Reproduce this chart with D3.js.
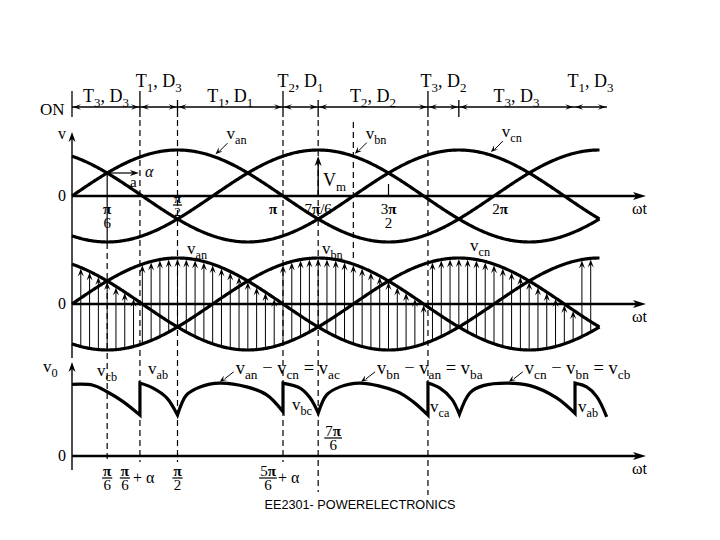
<!DOCTYPE html>
<html>
<head>
<meta charset="utf-8">
<script src="https://cdn.jsdelivr.net/npm/d3@7"></script>
<style>
body { margin: 0; background: #fff; }
text { font-family: "Liberation Serif", "Times New Roman", serif; fill: #000; }
</style>
</head>
<body>
<svg id="chart" width="720" height="540"></svg>
<script>
const WIDTH = 720;
const HEIGHT = 540;

// angles are in multiples of pi
const phaseShift = [0, 2 / 3, 4 / 3];          // van, vbn, vcn
const endAngle = 2.5;
const firingAngles = [0.322, 1.0, 1.687, 2.38]; // pi/6 + alpha
const diodeAngles = [0.5, 7 / 6, 11 / 6];
const upperPhase = [2, 0, 1, 2, 0];             // T3, T1, T2, T3, T1 -> vcn, van, vbn, vcn, van

const intervalEdges = [0, 0.322, 0.5, 1.0, 7 / 6, 1.687, 11 / 6, 2.38, 2.535];
const intervalLabels = [
    ["T", "_3", ", D", "_3"], ["T", "_1", ", D", "_3"], ["T", "_1", ", D", "_1"], ["T", "_2", ", D", "_1"],
    ["T", "_2", ", D", "_2"], ["T", "_3", ", D", "_2"], ["T", "_3", ", D", "_3"], ["T", "_1", ", D", "_3"]
];

// output voltage v0 / Vm
const vcb1 = [[0, 1.70], [0.10, 1.68], [0.164, 1.53], [0.242, 1.29], [0.322, 0.97]];
const vab1 = [[0.322, 1.73], [0.384, 1.61], [0.449, 1.38], [0.5, 0.97]];
const vac1 = [[0.5, 0.97], [0.543, 1.45], [0.607, 1.64], [0.701, 1.73], [0.828, 1.64], [0.923, 1.45], [1.0, 1.05]];
const vbc1 = [[1.0, 1.73], [1.081, 1.61], [1.128, 1.38], [1.167, 1.02]];
const vba1 = [[1.167, 1.02], [1.207, 1.45], [1.27, 1.64], [1.365, 1.73], [1.539, 1.53], [1.616, 1.29], [1.687, 0.97]];
const vca1 = [[1.687, 1.73], [1.744, 1.61], [1.80, 1.35], [1.836, 0.99]];
const vcb2 = [[1.836, 0.99], [1.886, 1.50], [1.949, 1.67], [2.06, 1.73], [2.171, 1.67], [2.297, 1.38], [2.384, 1.01]];
const vab2 = [[2.384, 1.73], [2.439, 1.64], [2.487, 1.41], [2.534, 0.93]];
const v0Segments = [vcb1, vab1, vac1, vbc1, vba1, vca1, vcb2, vab2];

const svg = d3.select("#chart");
const x = d3.scaleLinear().domain([0, 1]).range([72, 283]);
const y1 = d3.scaleLinear().domain([-1, 1]).range([242, 150]);
const y2 = d3.scaleLinear().domain([-1, 1]).range([350, 258]);
const y3 = d3.scaleLinear().domain([0, Math.sqrt(3)]).range([456, 383]);

var phase = function (i, t) {
    return Math.sin(Math.PI * (t - phaseShift[i]));
};

var head = function (g, tx, ty, angle, len, half, notch) {
    var c = Math.cos(angle), s = Math.sin(angle);
    var pts = [[0, 0], [-len, half], [-len * notch, 0], [-len, -half]].map(function (p) {
        return [tx + p[0] * c - p[1] * s, ty + p[0] * s + p[1] * c];
    });
    g.append("path").attr("d", "M" + pts.join("L") + "Z").attr("fill", "#000");
};

var seg = function (g, x1, y1_, x2, y2_, w, dash) {
    var l = g.append("line").attr("x1", x1).attr("y1", y1_).attr("x2", x2).attr("y2", y2_)
        .attr("stroke", "#000").attr("stroke-width", w);
    if (dash) l.attr("stroke-dasharray", dash);
    return l;
};

var richText = function (g, px, py, parts, size, anchor) {
    var t = g.append("text").attr("x", px).attr("y", py).attr("font-size", size)
        .attr("text-anchor", anchor || "start");
    var shift = 0;
    parts.forEach(function (p) {
        var isSub = p[0] === "_";
        var target = isSub ? size * 0.3 : 0;
        var ts = t.append("tspan").attr("dy", target - shift).text(isSub ? p.slice(1) : p);
        if (isSub) ts.attr("font-size", size * 0.72);
        shift = target;
    });
    return t;
};

var piText = function (t, str) {
    str.split(/(π)/).forEach(function (s) {
        if (!s) return;
        var ts = t.append("tspan").text(s);
        if (s === "π") ts.attr("font-weight", "bold");
    });
};

var frac = function (g, cx, yb, num, den, size, bar) {
    var n = g.append("text").attr("x", cx).attr("y", yb - 2).attr("text-anchor", "middle").attr("font-size", size);
    piText(n, num);
    var w = n.node().getComputedTextLength();
    if (bar) seg(g, cx - w / 2 - 1, yb, cx + w / 2 + 1, yb, 1.2);
    g.append("text").attr("x", cx).attr("y", yb + size * 0.82).attr("text-anchor", "middle")
        .attr("font-size", size).text(den);
};

var samples = d3.range(0, endAngle + 1e-9, 0.005);
var upperAt = function (t) {
    return upperPhase[firingAngles.filter(function (f) { return t >= f; }).length];
};

var g = svg.append("g");

// ---- conduction intervals ----
var rowY = 107;
seg(g, x(intervalEdges[0]), rowY, x(intervalEdges[intervalEdges.length - 1]), rowY, 1.3);
intervalLabels.forEach(function (lab, i) {
    var a = x(intervalEdges[i]), b = x(intervalEdges[i + 1]);
    head(g, a + 1, rowY, Math.PI, 8, 2.8, 0.6);
    head(g, b - 1, rowY, 0, 8, 2.8, 0.6);
    richText(g, (a + b) / 2, i % 2 ? 87 : 102, lab, 18, "middle");
});
intervalEdges.slice(0, 7).forEach(function (t, i) {
    var isDiode = diodeAngles.some(function (d) { return Math.abs(d - t) < 1e-6; });
    seg(g, x(t), isDiode ? 100 : 91, x(t), 117, 1.3);
});
g.append("text").attr("x", 40).attr("y", 115).attr("font-size", 17).text("ON");

// ---- dashed guides ----
var dash = "6,4";
seg(g, x(1 / 6), y1(0.5), x(1 / 6), 243, 1.2);
seg(g, x(1 / 6), 243, x(1 / 6), 462, 1.2, dash);
seg(g, x(firingAngles[0]), 120, x(firingAngles[0]), 462, 1.2, dash);
seg(g, x(diodeAngles[0]), 120, x(diodeAngles[0]), 462, 1.2, dash);
seg(g, x(firingAngles[1]), 120, x(firingAngles[1]), 462, 1.2, dash);
seg(g, x(diodeAngles[1]), 120, x(diodeAngles[1]), 492, 1.2, dash);
seg(g, x(4 / 3), 122, x(4 / 3), 262, 1.2, dash);
seg(g, x(firingAngles[2]), 120, x(firingAngles[2]), 495, 1.2, dash);

// ---- axes ----
[y1, y2, y3].forEach(function (ys) {
    seg(g, 72, ys(0), 636, ys(0), 2.6);
    head(g, 646, ys(0), 0, 13, 4, 0.75);
    richText(g, 632, ys(0) + 18, ["ωt"], 16);
    g.append("text").attr("x", 62).attr("y", ys(0) + 5).attr("text-anchor", "middle")
        .attr("font-size", 16).text("0");
});
seg(g, 72, 358, 72, 138, 1.4);
head(g, 72, 132, -Math.PI / 2, 10, 3.5, 0.7);
richText(g, 58, 139, ["v"], 16);
seg(g, 72, 470, 72, 368, 1.4);
head(g, 72, 362, -Math.PI / 2, 10, 3.5, 0.7);
richText(g, 43, 372, ["v", "_0"], 17);

// ---- panel 1: phase voltages ----
var curveLine = function (ys, i) {
    return d3.line().x(function (t) { return x(t); }).y(function (t) { return ys(phase(i, t)); })(samples);
};
[0, 1, 2].forEach(function (i) {
    g.append("path").attr("d", curveLine(y1, i)).attr("fill", "none")
        .attr("stroke", "#000").attr("stroke-width", 3.2);
});

// alpha arrow
seg(g, x(1 / 6), y1(0.5), x(firingAngles[0]) - 6, y1(0.5), 1.2);
head(g, x(firingAngles[0]) - 1, y1(0.5), 0, 9, 3, 0.7);
g.append("text").attr("x", 145).attr("y", 177).attr("font-size", 16).attr("font-style", "italic").text("α");
g.append("text").attr("x", 130).attr("y", 187).attr("font-size", 15).text("a");

// Vm arrow
seg(g, x(7 / 6), y1(0), x(7 / 6), y1(1) + 12, 1.4);
head(g, x(7 / 6), y1(1) + 6, -Math.PI / 2, 10, 3.5, 0.7);
richText(g, 323, 186, ["V", "_m"], 18);

// curve name leaders
var leaders1 = [[0.68, 0, ["v", "_an"]], [1.34, 1, ["v", "_bn"]], [1.985, 2, ["v", "_cn"]]];
leaders1.forEach(function (d) {
    var tx = x(d[0]), ty = y1(phase(d[1], d[0])) - 3;
    seg(g, tx + 12, ty - 11, tx + 4, ty - 3, 1);
    head(g, tx, ty, Math.atan2(11, -12), 7, 2.8, 0.6);
    richText(g, tx + 11, ty - 15, d[2], 17);
});

// tick labels panel 1
frac(g, x(1 / 6), 216, "π", "6", 15, false);
frac(g, x(0.5), 205, "π", "2", 13, true);
piText(g.append("text").attr("x", x(1) - 10).attr("y", 214).attr("text-anchor", "middle").attr("font-size", 15), "π");
piText(g.append("text").attr("x", x(7 / 6)).attr("y", 214).attr("text-anchor", "middle").attr("font-size", 15), "7π/6");
frac(g, x(1.5), 216, "3π", "2", 15, false);
seg(g, x(1.5), y1(0) - 12, x(1.5), y1(0), 1.2);
piText(g.append("text").attr("x", x(2) + 6).attr("y", 214).attr("text-anchor", "middle").attr("font-size", 15), "2π");

// ---- panel 2: phase voltages with conduction arrows ----
[0, 1, 2].forEach(function (i) {
    g.append("path").attr("d", curveLine(y2, i)).attr("fill", "none")
        .attr("stroke", "#000").attr("stroke-width", 3.2);
});
var arrowAngles = d3.range(1, 60).map(function (k) { return k / 24; });
arrowAngles.forEach(function (t) {
    var top = phase(upperAt(t), t);
    var bot = d3.min([0, 1, 2], function (i) { return phase(i, t); });
    seg(g, x(t), y2(bot), x(t), y2(top) + 5, 1);
    head(g, x(t), y2(top) + 1, -Math.PI / 2, 8, 3, 0.6);
});
richText(g, 187, 254, ["v", "_an"], 17);
richText(g, 322, 254, ["v", "_bn"], 17);
richText(g, 470, 251, ["v", "_cn"], 17);

// ---- panel 3: output voltage ----
var v0Line = d3.line().x(function (d) { return x(d[0]); }).y(function (d) { return y3(d[1]); })
    .curve(d3.curveCatmullRom.alpha(0.5));
var v0Path = v0Segments.map(function (s, i) {
    var p = v0Line(s);
    return i ? "L" + p.slice(1) : p;
}).join("");
g.append("path").attr("d", v0Path).attr("fill", "none").attr("stroke", "#000")
    .attr("stroke-width", 3.2).attr("stroke-linejoin", "miter");

richText(g, 97, 376, ["v", "_cb"], 17);
richText(g, 148, 374, ["v", "_ab"], 17);
richText(g, 292, 410, ["v", "_bc"], 17);
richText(g, 430, 412, ["v", "_ca"], 17);
richText(g, 578, 412, ["v", "_ab"], 17);

var leaders3 = [
    [0.70, 1.76, ["v", "_an", " − v", "_cn", " = v", "_ac"]],
    [1.37, 1.76, ["v", "_bn", " − v", "_an", " = v", "_ba"]],
    [2.07, 1.76, ["v", "_cn", " − v", "_bn", " = v", "_cb"]]
];
leaders3.forEach(function (d) {
    var tx = x(d[0]), ty = y3(d[1]);
    seg(g, tx + 14, ty - 10, tx + 5, ty - 3, 1);
    head(g, tx, ty, Math.atan2(10, -14), 7, 2.8, 0.6);
    richText(g, tx + 16, ty - 8, d[2], 18.5);
});

// bottom tick labels
frac(g, x(1 / 6), 478, "π", "6", 15, true);
frac(g, x(firingAngles[0]) - 15, 478, "π", "6", 15, true);
g.append("text").attr("x", 133).attr("y", 483).attr("font-size", 16).text("+ α");
frac(g, x(0.5), 478, "π", "2", 15, true);
frac(g, x(firingAngles[1]) - 15, 478, "5π", "6", 15, true);
g.append("text").attr("x", 278).attr("y", 483).attr("font-size", 16).text("+ α");
frac(g, x(7 / 6) + 15, 438, "7π", "6", 15, true);

// footer
svg.append("text").attr("x", 360).attr("y", 509).attr("text-anchor", "middle")
    .style("font-family", "'Liberation Sans', Arial, sans-serif").attr("font-size", 12.7)
    .text("EE2301- POWERELECTRONICS");
</script>
</body>
</html>
